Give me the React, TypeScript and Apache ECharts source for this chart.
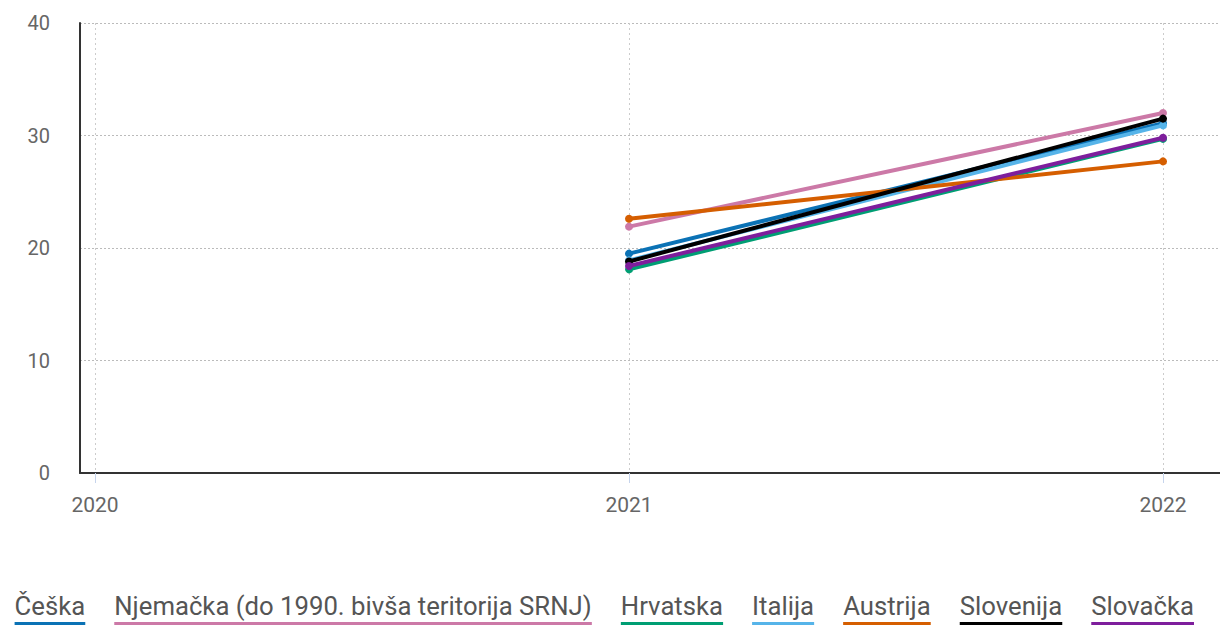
import React, { useEffect, useRef } from "react";
import * as echarts from "echarts";

const years = [2020, 2021, 2022];
const seriesNames = [
  "Češka",
  "Njemačka (do 1990. bivša teritorija SRNJ)",
  "Hrvatska",
  "Italija",
  "Austrija",
  "Slovenija",
  "Slovačka",
];
const seriesColors = ["#0b72b5", "#cc79a7", "#009e73", "#56b4e9", "#d55e00", "#000000", "#7e1e9c"];
const values2021 = [19.5, 21.9, 18.1, 18.9, 22.6, 18.8, 18.4];
const values2022 = [31.1, 32.0, 29.7, 30.9, 27.7, 31.5, 29.8];

const FONT = "Roboto, 'Noto Sans', sans-serif";

function measure(text: string, size: number): number {
  const c = document.createElement("canvas").getContext("2d");
  if (!c) return text.length * size * 0.5;
  c.font = `${size}px Roboto`;
  return c.measureText(text).width;
}

export default function App() {
  const ref = useRef<HTMLDivElement>(null);
  useEffect(() => {
    if (!ref.current) return;
    const chart = echarts.init(ref.current, undefined, { renderer: "svg" });

    const series = seriesNames.map((name, i) => ({
      name,
      type: "line",
      data: [
        [years[1], values2021[i]],
        [years[2], values2022[i]],
      ],
      symbol: "circle",
      symbolSize: 8,
      lineStyle: { width: 4, color: seriesColors[i] },
      itemStyle: { color: seriesColors[i] },
      z: 3 + i,
    }));

    // legend built from series names with underline
    const baseSize = 20;
    const gap = 29;
    const n = seriesNames.length;
    const baseWidths = seriesNames.map((s) => measure(s, baseSize));
    const baseTotal = baseWidths.reduce((a, b) => a + b, 0);
    const targetStart = 14.6;
    const targetEnd = 1194;
    const scale = (targetEnd - targetStart - gap * (n - 1)) / baseTotal;
    const fontSize = baseSize * scale;
    const legendEls: any[] = [];
    let x = targetStart;
    seriesNames.forEach((s, i) => {
      const w = baseWidths[i] * scale;
      legendEls.push({
        type: "text",
        x,
        y: 606,
        style: {
          text: s,
          fill: "#555",
          font: `${fontSize}px ${FONT}`,
          verticalAlign: "middle",
          align: "left",
        },
      });
      legendEls.push({
        type: "rect",
        shape: { x, y: 622, width: w, height: 3 },
        style: { fill: seriesColors[i] },
      });
      x += w + gap;
    });

    chart.setOption({
      animation: false,
      textStyle: { fontFamily: FONT },
      grid: { left: 80, right: 0, top: 23, bottom: 154, containLabel: false },
      xAxis: {
        type: "value",
        min: 2020 - 15 / 534,
        max: 2020 + (1220 - 95) / 534,
        axisLine: { show: true, lineStyle: { color: "#333", width: 2 } },
        axisTick: {
          show: true,
          customValues: years,
          length: 10,
          lineStyle: { color: "#c6d4ec", width: 1 },
        },
        axisLabel: {
          customValues: years,
          formatter: (v: number) => String(Math.round(v)),
          color: "#666",
          fontSize: 21,
          margin: 21,
          fontFamily: FONT,
        },
        splitLine: {
          show: true,
          customValues: years,
          lineStyle: { color: "#ccc", type: [2, 3], width: 1 },
        },
      },
      yAxis: {
        type: "value",
        min: 0,
        max: 40,
        interval: 10,
        axisLine: { show: true, lineStyle: { color: "#333", width: 2 } },
        axisTick: { show: false },
        axisLabel: { color: "#666", fontSize: 20, margin: 30, fontFamily: FONT },
        splitLine: { show: true, lineStyle: { color: "#bbb", type: [2, 2], width: 1 } },
      },
      legend: { show: false },
      graphic: legendEls,
      series,
    });
    return () => chart.dispose();
  }, []);
  return (
    <div
      ref={ref}
      style={{ position: "fixed", left: 0, top: 0, width: 1220, height: 627, background: "#fff" }}
    />
  );
}
